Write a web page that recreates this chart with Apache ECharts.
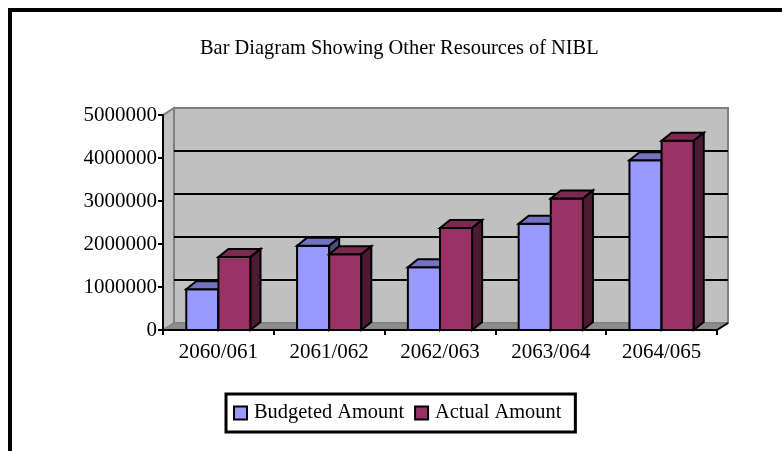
<!DOCTYPE html>
<html>
<head>
<meta charset="utf-8">
<script src="https://cdn.jsdelivr.net/npm/echarts@6/dist/echarts.min.js"></script>
<style>
html,body{margin:0;padding:0;background:#fff;}
#c{width:782px;height:451px;}
</style>
</head>
<body>
<div id="c"></div>
<script>
const categories = ['2060/061', '2061/062', '2062/063', '2063/064', '2064/065'];
const budgeted = [950000, 1960000, 1460000, 2470000, 3950000];
const actual = [1700000, 1760000, 2370000, 3060000, 4400000];
const yTicks = [0, 1000000, 2000000, 3000000, 4000000, 5000000];
const seriesNames = ['Budgeted Amount', 'Actual Amount'];
const chartTitle = 'Bar Diagram Showing Other Resources of NIBL';

const FONT = '"Liberation Serif", "DejaVu Serif", serif';
const WDX = 11, WDY = -7;   // wall depth offset
const BDX = 10, BDY = -8;   // bar depth offset
const BAR_FRAC = 0.29;

const chart = echarts.init(document.getElementById('c'));

function wallRender(params, api) {
  const cs = params.coordSys;
  const x0 = cs.x, x1 = cs.x + cs.width;
  const yb = cs.y + cs.height, yt = cs.y;
  const children = [];
  children.push({type:'polygon', shape:{points:[[x0,yb],[x0,yt],[x0+WDX,yt+WDY],[x0+WDX,yb+WDY]]},
    style:{fill:'#c0c0c0', stroke:'#808080', lineWidth:2}});
  children.push({type:'polygon', shape:{points:[[x0+WDX,yt+WDY],[x1+WDX,yt+WDY],[x1+WDX,yb+WDY],[x0+WDX,yb+WDY]]},
    style:{fill:'#c0c0c0', stroke:'#808080', lineWidth:2}});
  yTicks.forEach(function (t) {
    if (t === yTicks[0] || t === yTicks[yTicks.length - 1]) return;
    const y = api.coord([0, t])[1] + WDY;
    children.push({type:'line', shape:{x1:x0+WDX, y1:y, x2:x1+WDX, y2:y}, style:{stroke:'#000', lineWidth:2}});
  });
  children.push({type:'polygon', shape:{points:[[x0,yb],[x1,yb],[x1+WDX,yb+WDY],[x0+WDX,yb+WDY]]},
    style:{fill:'#8c8c8c', stroke:'#808080', lineWidth:1}});
  children.push({type:'line', shape:{x1:x1, y1:yb, x2:x1+WDX, y2:yb+WDY}, style:{stroke:'#000', lineWidth:2}});
  return {type:'group', children:children};
}

function makeBarRender(idx, front, top, side) {
  return function (params, api) {
    const i = api.value(0), v = api.value(1);
    const base = api.coord([i, 0]);
    const tp = api.coord([i, v]);
    const bw = api.size([1, 0])[0];
    const w = bw * BAR_FRAC;
    const xl = idx === 0 ? base[0] - w : base[0];
    const xr = xl + w;
    const yb = base[1], yt = tp[1];
    return {type:'group', children:[
      {type:'polygon', shape:{points:[[xl,yb],[xr,yb],[xr,yt],[xl,yt]]}, style:{fill:front, stroke:'#000', lineWidth:2}},
      {type:'polygon', shape:{points:[[xl,yt],[xr,yt],[xr+BDX,yt+BDY],[xl+BDX,yt+BDY]]}, style:{fill:top, stroke:'#000', lineWidth:2}},
      {type:'polygon', shape:{points:[[xr,yb],[xr,yt],[xr+BDX,yt+BDY],[xr+BDX,yb+BDY]]}, style:{fill:side, stroke:'#000', lineWidth:2}}
    ]};
  };
}

chart.setOption({
  animation: false,
  backgroundColor: '#fff',
  title: {
    text: chartTitle,
    left: 200, top: 39,
    padding: 0,
    textStyle: {fontFamily: FONT, fontSize: 20.4, fontWeight: 'normal', color: '#000'}
  },
  graphic: [{
    type: 'rect', z: -10, silent: true,
    shape: {x: 10, y: 10, width: 1000, height: 1000},
    style: {fill: 'none', stroke: '#000', lineWidth: 4}
  }],
  legend: {
    data: seriesNames,
    left: 226, top: 394,
    padding: [9, 14, 9, 7],
    itemWidth: 13, itemHeight: 13, itemGap: 10,
    icon: 'rect',
    borderColor: '#000', borderWidth: 3,
    itemStyle: {borderColor: '#000', borderWidth: 2},
    textStyle: {fontFamily: FONT, fontSize: 20.4, color: '#000', padding: [0, 0, 0, 2]}
  },
  grid: {left: 163, right: 65, top: 115, bottom: 121, containLabel: false},
  xAxis: {
    type: 'category',
    data: categories,
    boundaryGap: true,
    axisLine: {lineStyle: {color: '#000', width: 2}},
    axisTick: {show: true, length: 5, lineStyle: {color: '#000', width: 2}},
    axisLabel: {fontFamily: FONT, fontSize: 21, color: '#000', margin: 12},
    splitLine: {show: false}
  },
  yAxis: {
    type: 'value',
    min: yTicks[0], max: yTicks[yTicks.length - 1], interval: yTicks[1] - yTicks[0],
    axisLine: {show: true, lineStyle: {color: '#000', width: 2}},
    axisTick: {show: true, length: 5, lineStyle: {color: '#000', width: 2}},
    axisLabel: {fontFamily: FONT, fontSize: 21, color: '#000', margin: 6, formatter: function (v) { return String(v); }},
    splitLine: {show: false}
  },
  series: [
    {
      type: 'custom', name: '__walls', z: -1, silent: true,
      renderItem: wallRender, data: [[0, 0]], encode: {x: 0, y: 1}
    },
    {
      type: 'custom', name: seriesNames[0], z: 3,
      itemStyle: {color: '#9999ff'},
      renderItem: makeBarRender(0, '#9999ff', '#7373bf', '#4d4d80'),
      data: budgeted.map(function (v, i) { return [i, v]; }),
      encode: {x: 0, y: 1}
    },
    {
      type: 'custom', name: seriesNames[1], z: 4,
      itemStyle: {color: '#993366'},
      renderItem: makeBarRender(1, '#993366', '#7a2952', '#4d1a33'),
      data: actual.map(function (v, i) { return [i, v]; }),
      encode: {x: 0, y: 1}
    }
  ]
});
</script>
</body>
</html>
